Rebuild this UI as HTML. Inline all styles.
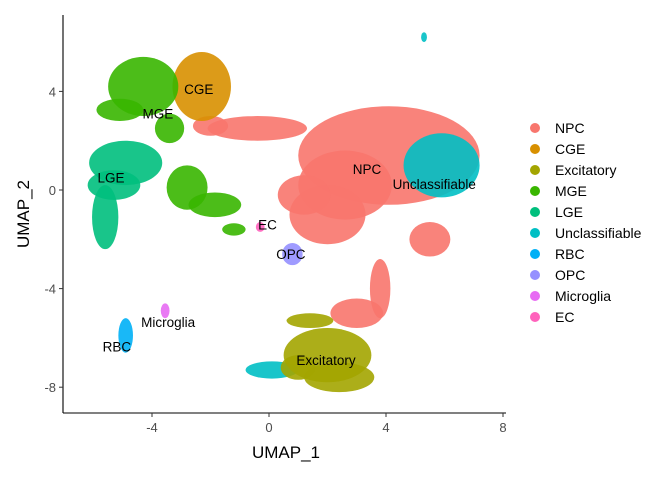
<!DOCTYPE html>
<html><head><meta charset="utf-8"><style>
body{margin:0;background:#fff;}
svg text{font-family:"Liberation Sans",sans-serif;}
</style></head><body>
<svg id="chart" width="672" height="480" xmlns="http://www.w3.org/2000/svg">
<g id="marks"></g>
<g id="labels"></g>
<g id="axes"></g>
<g id="legend"></g>
</svg>
<script>
const clusters=["NPC","CGE","Excitatory","MGE","LGE","Unclassifiable","RBC","OPC","Microglia","EC"];
const colors=["#F8766D","#D89000","#A3A500","#39B600","#00BF7D","#00BFC4","#00B0F6","#9590FF","#E76BF3","#FF62BC"];
// blobs: [clusterIndex, cx, cy, rx, ry] in UMAP units
const blobCluster=[0,0,0,0,0,0,0,0,0, 1, 3,3,3,3,3,3, 4,4,4, 5,5,5, 2,2,2,2, 6, 7, 8, 9];
const blobX=[4.1,2.6,-0.4,2.0,3.8,3.0,5.5,1.2,-2.0, -2.3, -4.3,-5.1,-2.8,-1.85,-1.2,-3.4, -4.9,-5.3,-5.6, 5.9,0.1,5.3, 2.0,1.0,2.4,1.4, -4.9, 0.8, -3.55, -0.3];
const blobY=[1.4,0.2,2.5,-1.0,-4.0,-5.0,-2.0,-0.2,2.6, 4.2, 4.2,3.25,0.1,-0.6,-1.6,2.5, 1.1,0.2,-1.1, 1.0,-7.3,6.2, -6.7,-7.2,-7.6,-5.3, -5.9, -2.6, -4.9, -1.5];
const blobRX=[3.1,1.6,1.7,1.3,0.35,0.9,0.7,0.9,0.6, 1.0, 1.2,0.8,0.7,0.9,0.4,0.5, 1.25,0.9,0.45, 1.3,0.9,0.1, 1.5,0.6,1.2,0.8, 0.25, 0.35, 0.15, 0.15];
const blobRY=[2.0,1.4,0.5,1.2,1.2,0.6,0.7,0.8,0.4, 1.4, 1.2,0.45,0.9,0.5,0.25,0.6, 0.9,0.6,1.3, 1.3,0.35,0.2, 1.1,0.5,0.6,0.3, 0.7, 0.45, 0.3, 0.2];
const labelText=["NPC","CGE","MGE","LGE","Unclassifiable","EC","OPC","Microglia","RBC","Excitatory"];
const labelX=[3.35,-2.4,-3.8,-5.4,5.65,-0.05,0.75,-3.45,-5.2,1.95];
const labelY=[0.85,4.1,3.1,0.5,0.25,-1.4,-2.6,-5.35,-6.35,-6.9];
const xTicks=[-4,0,4,8];
const yTicks=[4,0,-4,-8];
const X=v=>269+v*29.25, Y=v=>190-v*24.65;
const NS="http://www.w3.org/2000/svg";
function mk(t,a,p){const e=document.createElementNS(NS,t);for(const k in a)e.setAttribute(k,a[k]);p.appendChild(e);return e;}
const marks=document.getElementById('marks');
for(let i=0;i<blobX.length;i++){
 const e=mk('ellipse',{cx:X(blobX[i]),cy:Y(blobY[i]),rx:blobRX[i]*29.25,ry:blobRY[i]*24.65,fill:colors[blobCluster[i]],'fill-opacity':0.9},marks);
 
 
}
const lab=document.getElementById('labels');
for(let i=0;i<labelText.length;i++){
 const t=mk('text',{x:X(labelX[i]),y:Y(labelY[i])+5,'text-anchor':'middle','font-size':13.5,fill:'#000'},lab);
 t.textContent=labelText[i];
 
 
}
const ax=document.getElementById('axes');
mk('line',{x1:63,y1:15,x2:63,y2:413,stroke:'#000','stroke-width':1.1},ax);
mk('line',{x1:63,y1:413,x2:506,y2:413,stroke:'#000','stroke-width':1.1},ax);
xTicks.forEach(v=>{mk('line',{x1:X(v),x2:X(v),y1:413,y2:417,stroke:'#333'},ax);
 const t=mk('text',{x:X(v),y:432,'text-anchor':'middle','font-size':13,fill:'#4d4d4d'},ax);t.textContent=v;
 });
yTicks.forEach(v=>{mk('line',{x1:59,x2:63,y1:Y(v),y2:Y(v),stroke:'#333'},ax);
 const t=mk('text',{x:56,y:Y(v)+5,'text-anchor':'end','font-size':13,fill:'#4d4d4d'},ax);t.textContent=v;
 });
let t=mk('text',{x:286,y:458,'text-anchor':'middle','font-size':17},ax);t.textContent='UMAP_1';

t=mk('text',{x:0,y:0,'text-anchor':'middle','font-size':17,transform:'translate(29,214) rotate(-90)'},ax);t.textContent='UMAP_2';

const lg=document.getElementById('legend');
clusters.forEach((c,i)=>{const y=128+i*21;
 const g=mk('g',{},lg);
 mk('circle',{cx:535,cy:y,r:5,fill:colors[i]},g);
 const tt=mk('text',{x:555,y:y+5,'font-size':14},g);tt.textContent=c;});
</script>
</body></html>
